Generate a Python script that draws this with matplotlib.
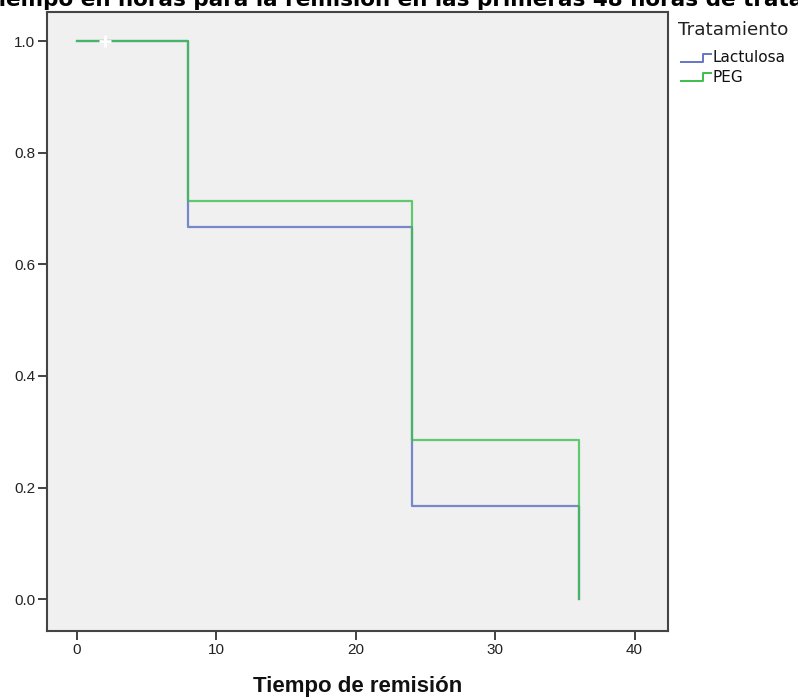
import matplotlib
matplotlib.use("Agg")
import matplotlib.pyplot as plt
from matplotlib.lines import Line2D

plt.rcParams['font.family'] = ['Liberation Sans', 'DejaVu Sans']

# survival curves
lact_t = [0, 8, 24, 36]
lact_s = [1.0, 0.667, 0.167, 0.0]
peg_t = [0, 8, 24, 36]
peg_s = [1.0, 0.714, 0.286, 0.0]
# censored case
cens_t = [2]
cens_s = [1.0]

groups = ['Lactulosa', 'PEG']
colors = ['#6275c6', '#3cbf4e']
xticks = [0, 10, 20, 30, 40]
yticks = [0.0, 0.2, 0.4, 0.6, 0.8, 1.0]

W, H = 798, 698
fig = plt.figure(figsize=(W / 100, H / 100), dpi=100)
ax = fig.add_axes([47 / W, 1 - 631 / H, (668 - 47) / W, (631 - 12) / H])
ax.set_facecolor('#f0f0f0')

ax.step(lact_t, lact_s, where='post', color=colors[0], lw=1.6, alpha=0.85, zorder=2)
ax.step(peg_t, peg_s, where='post', color=colors[1], lw=1.6, alpha=0.8, zorder=3)
ax.plot(cens_t, cens_s, '+', color='white', ms=9, mew=2, zorder=4)

ax.set_xlim(-2.15, 42.4)
ax.set_ylim(-0.057, 1.052)
ax.set_xticks(xticks)
ax.set_yticks(yticks)
ax.set_xticklabels([str(v) for v in xticks])
ax.set_yticklabels(['%.1f' % v for v in yticks])
ax.tick_params(direction='out', length=6.5, width=1.2, colors='#222222',
               labelsize=11, pad=2, top=False, right=False)
for s in ax.spines.values():
    s.set_color('#444444')
    s.set_linewidth(1.5)

ax.set_xlabel('Tiempo de remisión', fontsize=16, fontweight='bold', labelpad=14, color='#111111')

# title is cut at the top edge, as in the original export
fig.text(-16 / W, 1 - 6 / H, 'Tiempo en horas para la remisión en las primeras 48 horas de tratamiento',
         fontsize=15.5, fontweight='bold', ha='left', va='baseline', family='DejaVu Sans')

# legend drawn by hand with small step icons
fig.text(678 / W, 1 - 30 / H, 'Tratamiento', fontsize=13.2, va='center', ha='left', color='#222222',
         family='DejaVu Sans')
for i, (g, c) in enumerate(zip(groups, colors)):
    yc = 58 + i * 19
    fig.add_artist(Line2D([681 / W, 703 / W, 703 / W, 711 / W],
                          [1 - (yc + 4) / H, 1 - (yc + 4) / H, 1 - (yc - 4) / H, 1 - (yc - 4) / H],
                          color=c, lw=1.4, transform=fig.transFigure))
    fig.text(713 / W, 1 - yc / H, g, fontsize=11, va='center', ha='left', color='#111111',
             family='DejaVu Sans')

fig.savefig('out.png', dpi=100)
